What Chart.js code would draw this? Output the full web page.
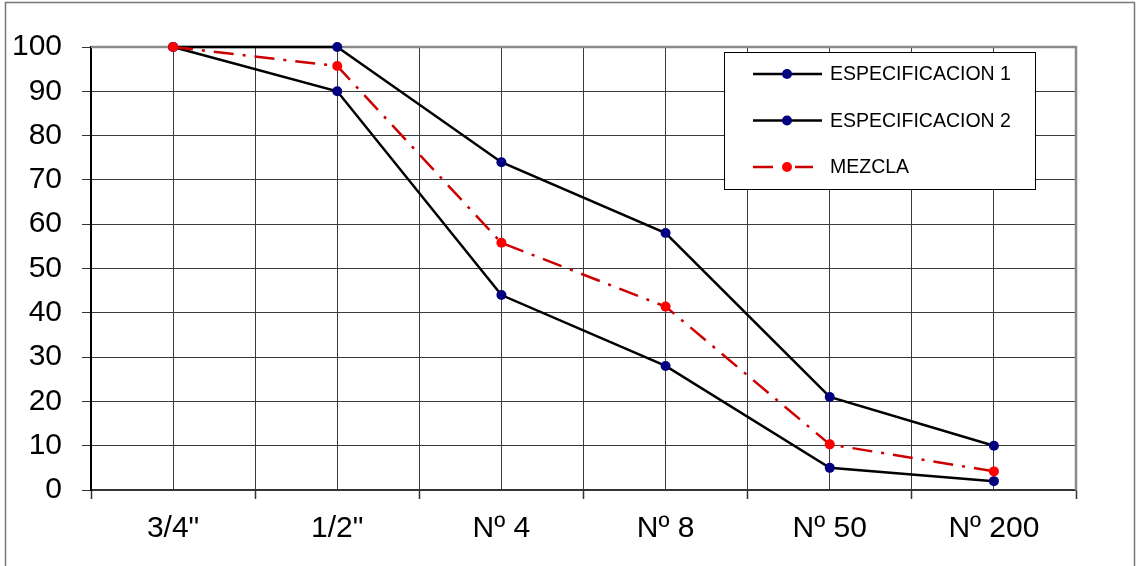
<!DOCTYPE html>
<html>
<head>
<meta charset="utf-8">
<title>Granulometría</title>
<script src="https://cdn.jsdelivr.net/npm/chart.js@4/dist/chart.umd.min.js"></script>
<style>
  html, body { margin: 0; padding: 0; background: #fff; }
  #wrap { width: 1136px; height: 566px; position: relative; }
</style>
</head>
<body>
<div id="wrap"><canvas id="c" width="1136" height="566"></canvas></div>
<script>
// Tamices
const categories = ['3/4"', '1/2"', 'Nº 4', 'Nº 8', 'Nº 50', 'Nº 200'];
// % que pasa
const especificacion1 = [100, 100, 74, 58, 21, 10];
const especificacion2 = [100, 90, 44, 28, 5, 2];
const mezcla = [100, 95.7, 55.8, 41.4, 10.3, 4.2];
const yTicks = [0, 10, 20, 30, 40, 50, 60, 70, 80, 90, 100];

const toPoints = arr => arr.map((v, i) => ({ x: i, y: v }));
const FONT = "'Liberation Sans', Arial, sans-serif";
const DASH = [20, 9, 3, 9];

// Marco exterior y borde del área de trazado
const framePlugin = {
  id: 'frame',
  beforeDraw(chart) {
    const ctx = chart.ctx;
    ctx.save();
    ctx.fillStyle = '#fff';
    ctx.fillRect(0, 0, chart.width, chart.height);
    ctx.strokeStyle = '#777';
    ctx.lineWidth = 1.5;
    ctx.beginPath();
    ctx.moveTo(5.5, chart.height + 5);
    ctx.lineTo(5.5, 2.5);
    ctx.lineTo(1134.5, 2.5);
    ctx.lineTo(1134.5, chart.height + 5);
    ctx.stroke();
    ctx.restore();
  },
  beforeDatasetsDraw(chart) {
    const { ctx, chartArea: a } = chart;
    ctx.save();
    ctx.strokeStyle = '#8a8a8a';
    ctx.lineWidth = 2.5;
    ctx.beginPath();
    ctx.moveTo(a.left, a.top);
    ctx.lineTo(a.right, a.top);
    ctx.lineTo(a.right, a.bottom);
    ctx.stroke();
    ctx.restore();
  }
};

// Leyenda dentro del área de trazado
const boxLegend = {
  id: 'boxLegend',
  afterDraw(chart) {
    const ctx = chart.ctx;
    const bx = 724.5, by = 52.5, bw = 311, bh = 137;
    ctx.save();
    ctx.fillStyle = '#fff';
    ctx.fillRect(bx, by, bw, bh);
    ctx.strokeStyle = '#000';
    ctx.lineWidth = 1;
    ctx.strokeRect(bx, by, bw, bh);
    const rows = [74, 120.5, 167];
    chart.data.datasets.forEach((ds, i) => {
      const y = rows[i];
      ctx.strokeStyle = ds.borderColor;
      ctx.lineWidth = ds.borderWidth;
      ctx.beginPath();
      if (ds.borderDash) {
        ctx.moveTo(753, y); ctx.lineTo(773, y);
        ctx.moveTo(795, y); ctx.lineTo(813, y);
      } else {
        ctx.moveTo(753, y); ctx.lineTo(822, y);
      }
      ctx.stroke();
      ctx.fillStyle = ds.pointBackgroundColor;
      ctx.beginPath();
      ctx.arc(787, y, ds.pointRadius, 0, Math.PI * 2);
      ctx.fill();
      ctx.fillStyle = '#000';
      ctx.font = '19.5px ' + FONT;
      ctx.textBaseline = 'middle';
      ctx.textAlign = 'left';
      ctx.fillText(ds.label, 830, y + 1);
    });
    ctx.restore();
  }
};

new Chart(document.getElementById('c'), {
  type: 'line',
  data: {
    datasets: [
      {
        label: 'ESPECIFICACION 1',
        data: toPoints(especificacion1),
        borderColor: '#000',
        borderWidth: 2.5,
        pointBackgroundColor: '#000080',
        pointBorderColor: '#000080',
        pointRadius: 5,
        pointBorderWidth: 0,
        tension: 0,
        clip: false,
        order: 2
      },
      {
        label: 'ESPECIFICACION 2',
        data: toPoints(especificacion2),
        borderColor: '#000',
        borderWidth: 2.5,
        pointBackgroundColor: '#000080',
        pointBorderColor: '#000080',
        pointRadius: 5,
        pointBorderWidth: 0,
        tension: 0,
        clip: false,
        order: 1
      },
      {
        label: 'MEZCLA',
        data: toPoints(mezcla),
        borderColor: '#cc0000',
        borderWidth: 2.5,
        borderDash: DASH,
        pointBackgroundColor: '#ff0000',
        pointBorderColor: '#ff0000',
        pointRadius: 5,
        pointBorderWidth: 0,
        tension: 0,
        clip: false,
        order: 0
      }
    ]
  },
  options: {
    responsive: false,
    animation: false,
    devicePixelRatio: 1,
    layout: { padding: { top: 47, right: 60, left: 0, bottom: 0 } },
    plugins: { legend: { display: false }, tooltip: { enabled: false } },
    scales: {
      x: {
        type: 'linear',
        min: -0.5,
        max: categories.length - 0.5,
        afterFit(scale) { scale.height = 76; },
        afterBuildTicks(scale) {
          const t = [];
          for (let v = -0.5; v <= categories.length - 0.5 + 1e-9; v += 0.5) t.push({ value: v });
          scale.ticks = t;
        },
        ticks: {
          autoSkip: false,
          maxRotation: 0,
          minRotation: 0,
          padding: 12,
          color: '#000',
          font: { family: FONT, size: 30 },
          callback: v => Number.isInteger(v) ? categories[v] : ''
        },
        grid: {
          color: '#3a3a3a',
          lineWidth: 1,
          tickLength: 9,
          tickColor: ctx => Number.isInteger(ctx.tick.value) ? 'rgba(0,0,0,0)' : '#333',
          tickWidth: 1.5
        },
        border: { display: true, color: '#333', width: 1.5 }
      },
      y: {
        min: 0,
        max: 100,
        afterFit(scale) { scale.width = 91; },
        afterBuildTicks(scale) { scale.ticks = yTicks.map(v => ({ value: v })); },
        ticks: {
          padding: 20,
          color: '#000',
          font: { family: FONT, size: 30 }
        },
        grid: {
          color: '#3a3a3a',
          lineWidth: 1,
          tickLength: 9,
          tickColor: '#333'
        },
        border: { display: true, color: '#000', width: 2 }
      }
    }
  },
  plugins: [framePlugin, boxLegend]
});
</script>
</body>
</html>
